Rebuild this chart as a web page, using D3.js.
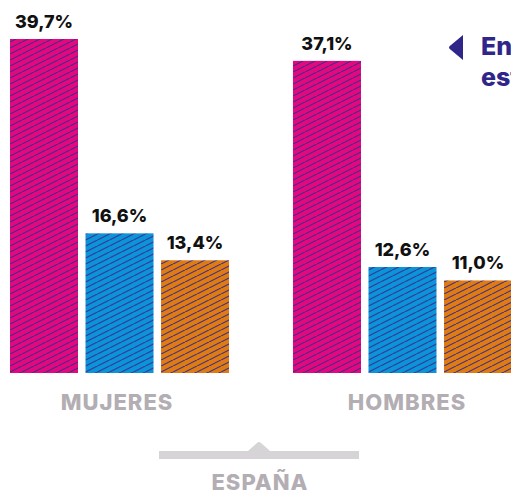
<!DOCTYPE html>
<html>
<head>
<meta charset="utf-8">
<script src="https://cdn.jsdelivr.net/npm/d3@7"></script>
<style>
  html, body { margin: 0; padding: 0; background: #fff; overflow: hidden; }
  svg { display: block; font-family: Inter, Lato, "Noto Sans", sans-serif; }
</style>
</head>
<body>
<div id="chart"></div>
<script>
// data
const groups = ["MUJERES", "HOMBRES"];
const series = ["serie1", "serie2", "serie3"];
const mujeres = [39.7, 16.6, 13.4];
const hombres = [37.1, 12.6, 11.0];
const region = "ESPAÑA";
const note = ["Entre los", "estudiantes"];

const W = 511;
const H = 494;
const COLORS = ["#e4087f", "#0b94d9", "#de7b13"];
const HATCH = "#3a2c8c";

const rows = [];
groups.forEach(function(g, gi) {
  const vals = gi === 0 ? mujeres : hombres;
  series.forEach(function(s, si) {
    rows.push({ group: g, key: s, value: vals[si], i: si });
  });
});

const svg = d3
  .select("#chart")
  .append("svg")
  .attr("width", W)
  .attr("height", H);

// hatch patterns, one per fill colour
const defs = svg.append("defs");
COLORS.forEach(function(c, i) {
  const p = defs
    .append("pattern")
    .attr("id", "hatch" + i)
    .attr("patternUnits", "userSpaceOnUse")
    .attr("width", 12)
    .attr("height", 6);
  p.append("rect").attr("width", 12).attr("height", 6).attr("fill", c);
  p.append("path")
    .attr("d", "M0,6 L12,0 M-12,6 L0,0 M12,6 L24,0")
    .attr("stroke", HATCH)
    .attr("stroke-width", 1.1);
});

const x0 = d3.scaleBand().domain(groups).range([10, 512]).paddingInner(0.226);
const x1 = d3.scaleBand().domain(series).range([0, x0.bandwidth()]).paddingInner(0.0993);
const y = d3.scaleLinear().domain([0, 39.7]).range([373, 39]);

const fmt = function(v) {
  return d3.format(".1f")(v).replace(".", ",") + "%";
};

const bars = svg
  .selectAll("g.bar")
  .data(rows)
  .enter()
  .append("g")
  .attr("class", "bar")
  .attr("transform", function(d) {
    return "translate(" + (x0(d.group) + x1(d.key)) + ",0)";
  });

bars
  .append("rect")
  .attr("y", function(d) { return y(d.value); })
  .attr("width", x1.bandwidth())
  .attr("height", function(d) { return y(0) - y(d.value); })
  .attr("fill", function(d) { return "url(#hatch" + d.i + ")"; });

bars
  .append("text")
  .text(function(d) { return fmt(d.value); })
  .attr("x", x1.bandwidth() / 2)
  .attr("y", function(d) { return y(d.value) - 11; })
  .attr("text-anchor", "middle")
  .attr("font-size", "18px")
  .attr("font-weight", 800)
  .attr("fill", "#111");

// group labels
const labelX = [117, 407];
svg
  .selectAll("text.grp")
  .data(groups)
  .enter()
  .append("text")
  .attr("class", "grp")
  .text(function(d) { return d; })
  .attr("x", function(d, i) { return labelX[i]; })
  .attr("y", 410)
  .attr("text-anchor", "middle")
  .attr("font-size", "22px")
  .attr("font-weight", 800)
  .attr("letter-spacing", "1px")
  .attr("fill", "#b3aeb3");

// bracket under both groups
const cx = 259;
svg
  .append("path")
  .attr("d",
    "M" + (cx - 100) + ",451 L" + (cx - 11) + ",451 L" + (cx - 2) + ",443 Q" + cx + ",441 " + (cx + 2) + ",443 L" +
    (cx + 11) + ",451 L" + (cx + 100) + ",451 L" + (cx + 100) + ",459 L" + (cx - 100) + ",459 Z")
  .attr("fill", "#d6d4d7");

svg
  .append("text")
  .text(region)
  .attr("x", cx + 1)
  .attr("y", 490)
  .attr("text-anchor", "middle")
  .attr("font-size", "22px")
  .attr("font-weight", 800)
  .attr("letter-spacing", "1px")
  .attr("fill", "#b3aeb3");

// side note, cut by the right edge
svg
  .append("path")
  .attr("d", "M463,35 L463,60 L451,50 Q447,47.5 451,45 Z")
  .attr("fill", "#30268a");

svg
  .selectAll("text.note")
  .data(note)
  .enter()
  .append("text")
  .attr("class", "note")
  .text(function(d) { return d; })
  .attr("x", 481)
  .attr("y", function(d, i) { return 55 + i * 31; })
  .attr("font-size", "25px")
  .attr("font-weight", 800)
  .attr("fill", "#30268a");
</script>
</body>
</html>
